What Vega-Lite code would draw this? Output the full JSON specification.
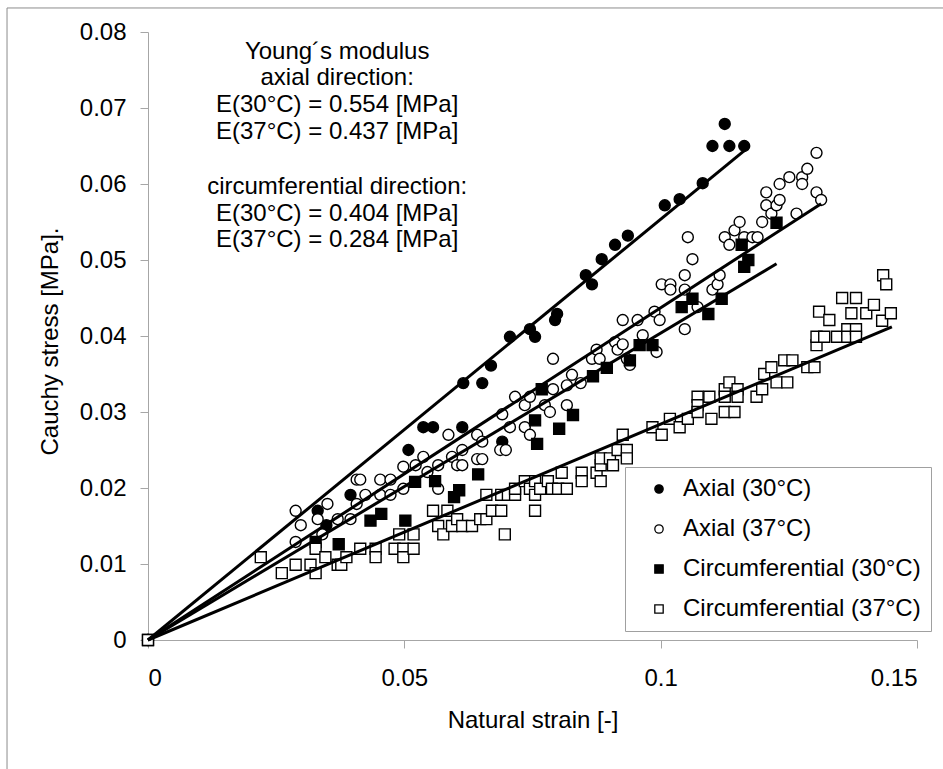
{
  "$schema": "https://vega.github.io/schema/vega-lite/v6.json",
  "autosize": {"type": "none"},
  "padding": {"left": 148, "top": 32, "right": 26, "bottom": 129},
  "width": 769,
  "height": 608,
  "background": "white",
  "config": {
    "view": {"stroke": null},
    "font": "Liberation Sans",
    "axis": {
      "grid": false,
      "domainColor": "#a6a6a6",
      "tickColor": "#a6a6a6",
      "tickSize": 8,
      "labelFont": "Liberation Sans",
      "labelFontSize": 24,
      "labelColor": "black",
      "titleFont": "Liberation Sans",
      "titleFontSize": 24,
      "titleFontWeight": "normal",
      "titleColor": "black"
    },
    "legend": {
      "strokeColor": "#a0a0a0", "fillColor": "white", "padding": 10,
      "symbolOffset": 12, "labelOffset": 12, "rowPadding": 16, "labelLimit": 400,
      "labelFont": "Liberation Sans", "labelFontSize": 24, "labelColor": "black",
      "symbolSize": 70, "symbolStrokeWidth": 1.3
    }
  },
  "datasets": {
    "points": [
      {"series": "Axial (30°C)", "strain": 0, "stress": 0},
      {"series": "Axial (30°C)", "strain": 0.0331, "stress": 0.0170},
      {"series": "Axial (30°C)", "strain": 0.0348, "stress": 0.0151},
      {"series": "Axial (30°C)", "strain": 0.0395, "stress": 0.0191},
      {"series": "Axial (30°C)", "strain": 0.0508, "stress": 0.0250},
      {"series": "Axial (30°C)", "strain": 0.0537, "stress": 0.0280},
      {"series": "Axial (30°C)", "strain": 0.0556, "stress": 0.0280},
      {"series": "Axial (30°C)", "strain": 0.0613, "stress": 0.0280},
      {"series": "Axial (30°C)", "strain": 0.0615, "stress": 0.0338},
      {"series": "Axial (30°C)", "strain": 0.0652, "stress": 0.0338},
      {"series": "Axial (30°C)", "strain": 0.0669, "stress": 0.0361},
      {"series": "Axial (30°C)", "strain": 0.0691, "stress": 0.0261},
      {"series": "Axial (30°C)", "strain": 0.0706, "stress": 0.0399},
      {"series": "Axial (30°C)", "strain": 0.0745, "stress": 0.0409},
      {"series": "Axial (30°C)", "strain": 0.0755, "stress": 0.0399},
      {"series": "Axial (30°C)", "strain": 0.0798, "stress": 0.0429},
      {"series": "Axial (30°C)", "strain": 0.0794, "stress": 0.0421},
      {"series": "Axial (30°C)", "strain": 0.0854, "stress": 0.0480},
      {"series": "Axial (30°C)", "strain": 0.0866, "stress": 0.0468},
      {"series": "Axial (30°C)", "strain": 0.0885, "stress": 0.0501},
      {"series": "Axial (30°C)", "strain": 0.0911, "stress": 0.0520},
      {"series": "Axial (30°C)", "strain": 0.0936, "stress": 0.0532},
      {"series": "Axial (30°C)", "strain": 0.1008, "stress": 0.0572},
      {"series": "Axial (30°C)", "strain": 0.1037, "stress": 0.0580},
      {"series": "Axial (30°C)", "strain": 0.1082, "stress": 0.0601},
      {"series": "Axial (30°C)", "strain": 0.1101, "stress": 0.0650},
      {"series": "Axial (30°C)", "strain": 0.1125, "stress": 0.0679},
      {"series": "Axial (30°C)", "strain": 0.1134, "stress": 0.0650},
      {"series": "Axial (30°C)", "strain": 0.1163, "stress": 0.0650},

      {"series": "Axial (37°C)", "strain": 0, "stress": 0},
      {"series": "Axial (37°C)", "strain": 0.0288, "stress": 0.0170},
      {"series": "Axial (37°C)", "strain": 0.0298, "stress": 0.0151},
      {"series": "Axial (37°C)", "strain": 0.0288, "stress": 0.0129},
      {"series": "Axial (37°C)", "strain": 0.0350, "stress": 0.0179},
      {"series": "Axial (37°C)", "strain": 0.0331, "stress": 0.0159},
      {"series": "Axial (37°C)", "strain": 0.0340, "stress": 0.0139},
      {"series": "Axial (37°C)", "strain": 0.0370, "stress": 0.0159},
      {"series": "Axial (37°C)", "strain": 0.0395, "stress": 0.0159},
      {"series": "Axial (37°C)", "strain": 0.0407, "stress": 0.0179},
      {"series": "Axial (37°C)", "strain": 0.0407, "stress": 0.0211},
      {"series": "Axial (37°C)", "strain": 0.0414, "stress": 0.0211},
      {"series": "Axial (37°C)", "strain": 0.0424, "stress": 0.0191},
      {"series": "Axial (37°C)", "strain": 0.0453, "stress": 0.0211},
      {"series": "Axial (37°C)", "strain": 0.0453, "stress": 0.0191},
      {"series": "Axial (37°C)", "strain": 0.0473, "stress": 0.0211},
      {"series": "Axial (37°C)", "strain": 0.0473, "stress": 0.0191},
      {"series": "Axial (37°C)", "strain": 0.0498, "stress": 0.0228},
      {"series": "Axial (37°C)", "strain": 0.0498, "stress": 0.0199},
      {"series": "Axial (37°C)", "strain": 0.0522, "stress": 0.0230},
      {"series": "Axial (37°C)", "strain": 0.0537, "stress": 0.0241},
      {"series": "Axial (37°C)", "strain": 0.0545, "stress": 0.0221},
      {"series": "Axial (37°C)", "strain": 0.0566, "stress": 0.0230},
      {"series": "Axial (37°C)", "strain": 0.0566, "stress": 0.0199},
      {"series": "Axial (37°C)", "strain": 0.0586, "stress": 0.0270},
      {"series": "Axial (37°C)", "strain": 0.0593, "stress": 0.0241},
      {"series": "Axial (37°C)", "strain": 0.0603, "stress": 0.0230},
      {"series": "Axial (37°C)", "strain": 0.0613, "stress": 0.0230},
      {"series": "Axial (37°C)", "strain": 0.0613, "stress": 0.0250},
      {"series": "Axial (37°C)", "strain": 0.0642, "stress": 0.0270},
      {"series": "Axial (37°C)", "strain": 0.0642, "stress": 0.0238},
      {"series": "Axial (37°C)", "strain": 0.0652, "stress": 0.0238},
      {"series": "Axial (37°C)", "strain": 0.0652, "stress": 0.0261},
      {"series": "Axial (37°C)", "strain": 0.0691, "stress": 0.0297},
      {"series": "Axial (37°C)", "strain": 0.0687, "stress": 0.0250},
      {"series": "Axial (37°C)", "strain": 0.0698, "stress": 0.0250},
      {"series": "Axial (37°C)", "strain": 0.0706, "stress": 0.0280},
      {"series": "Axial (37°C)", "strain": 0.0716, "stress": 0.0320},
      {"series": "Axial (37°C)", "strain": 0.0735, "stress": 0.0309},
      {"series": "Axial (37°C)", "strain": 0.0735, "stress": 0.0280},
      {"series": "Axial (37°C)", "strain": 0.0745, "stress": 0.0270},
      {"series": "Axial (37°C)", "strain": 0.0745, "stress": 0.0320},
      {"series": "Axial (37°C)", "strain": 0.0774, "stress": 0.0309},
      {"series": "Axial (37°C)", "strain": 0.0784, "stress": 0.0300},
      {"series": "Axial (37°C)", "strain": 0.0790, "stress": 0.0330},
      {"series": "Axial (37°C)", "strain": 0.0790, "stress": 0.0370},
      {"series": "Axial (37°C)", "strain": 0.0817, "stress": 0.0309},
      {"series": "Axial (37°C)", "strain": 0.0817, "stress": 0.0335},
      {"series": "Axial (37°C)", "strain": 0.0827, "stress": 0.0349},
      {"series": "Axial (37°C)", "strain": 0.0844, "stress": 0.0338},
      {"series": "Axial (37°C)", "strain": 0.0866, "stress": 0.0370},
      {"series": "Axial (37°C)", "strain": 0.0875, "stress": 0.0382},
      {"series": "Axial (37°C)", "strain": 0.0881, "stress": 0.0370},
      {"series": "Axial (37°C)", "strain": 0.0911, "stress": 0.0392},
      {"series": "Axial (37°C)", "strain": 0.0916, "stress": 0.0382},
      {"series": "Axial (37°C)", "strain": 0.0926, "stress": 0.0389},
      {"series": "Axial (37°C)", "strain": 0.0934, "stress": 0.0370},
      {"series": "Axial (37°C)", "strain": 0.0940, "stress": 0.0362},
      {"series": "Axial (37°C)", "strain": 0.0926, "stress": 0.0421},
      {"series": "Axial (37°C)", "strain": 0.0955, "stress": 0.0421},
      {"series": "Axial (37°C)", "strain": 0.0965, "stress": 0.0401},
      {"series": "Axial (37°C)", "strain": 0.0988, "stress": 0.0432},
      {"series": "Axial (37°C)", "strain": 0.0998, "stress": 0.0421},
      {"series": "Axial (37°C)", "strain": 0.0992, "stress": 0.0379},
      {"series": "Axial (37°C)", "strain": 0.1002, "stress": 0.0468},
      {"series": "Axial (37°C)", "strain": 0.1019, "stress": 0.0468},
      {"series": "Axial (37°C)", "strain": 0.1019, "stress": 0.0461},
      {"series": "Axial (37°C)", "strain": 0.1047, "stress": 0.0480},
      {"series": "Axial (37°C)", "strain": 0.1047, "stress": 0.0461},
      {"series": "Axial (37°C)", "strain": 0.1047, "stress": 0.0409},
      {"series": "Axial (37°C)", "strain": 0.1062, "stress": 0.0501},
      {"series": "Axial (37°C)", "strain": 0.1053, "stress": 0.0530},
      {"series": "Axial (37°C)", "strain": 0.1072, "stress": 0.0438},
      {"series": "Axial (37°C)", "strain": 0.1101, "stress": 0.0461},
      {"series": "Axial (37°C)", "strain": 0.1111, "stress": 0.0468},
      {"series": "Axial (37°C)", "strain": 0.1115, "stress": 0.0480},
      {"series": "Axial (37°C)", "strain": 0.1125, "stress": 0.0530},
      {"series": "Axial (37°C)", "strain": 0.1134, "stress": 0.0520},
      {"series": "Axial (37°C)", "strain": 0.1144, "stress": 0.0539},
      {"series": "Axial (37°C)", "strain": 0.1154, "stress": 0.0550},
      {"series": "Axial (37°C)", "strain": 0.1163, "stress": 0.0530},
      {"series": "Axial (37°C)", "strain": 0.1179, "stress": 0.0530},
      {"series": "Axial (37°C)", "strain": 0.1189, "stress": 0.0530},
      {"series": "Axial (37°C)", "strain": 0.1198, "stress": 0.0550},
      {"series": "Axial (37°C)", "strain": 0.1206, "stress": 0.0589},
      {"series": "Axial (37°C)", "strain": 0.1206, "stress": 0.0572},
      {"series": "Axial (37°C)", "strain": 0.1216, "stress": 0.0561},
      {"series": "Axial (37°C)", "strain": 0.1226, "stress": 0.0572},
      {"series": "Axial (37°C)", "strain": 0.1232, "stress": 0.0579},
      {"series": "Axial (37°C)", "strain": 0.1232, "stress": 0.0600},
      {"series": "Axial (37°C)", "strain": 0.1251, "stress": 0.0609},
      {"series": "Axial (37°C)", "strain": 0.1265, "stress": 0.0561},
      {"series": "Axial (37°C)", "strain": 0.1276, "stress": 0.0609},
      {"series": "Axial (37°C)", "strain": 0.1276, "stress": 0.0600},
      {"series": "Axial (37°C)", "strain": 0.1286, "stress": 0.0620},
      {"series": "Axial (37°C)", "strain": 0.1304, "stress": 0.0641},
      {"series": "Axial (37°C)", "strain": 0.1304, "stress": 0.0589},
      {"series": "Axial (37°C)", "strain": 0.1313, "stress": 0.0579},

      {"series": "Circumferential (30°C)", "strain": 0, "stress": 0},
      {"series": "Circumferential (30°C)", "strain": 0.0327, "stress": 0.0129},
      {"series": "Circumferential (30°C)", "strain": 0.0372, "stress": 0.0126},
      {"series": "Circumferential (30°C)", "strain": 0.0434, "stress": 0.0157},
      {"series": "Circumferential (30°C)", "strain": 0.0455, "stress": 0.0166},
      {"series": "Circumferential (30°C)", "strain": 0.0502, "stress": 0.0157},
      {"series": "Circumferential (30°C)", "strain": 0.0521, "stress": 0.0208},
      {"series": "Circumferential (30°C)", "strain": 0.0560, "stress": 0.0209},
      {"series": "Circumferential (30°C)", "strain": 0.0597, "stress": 0.0188},
      {"series": "Circumferential (30°C)", "strain": 0.0607, "stress": 0.0197},
      {"series": "Circumferential (30°C)", "strain": 0.0644, "stress": 0.0218},
      {"series": "Circumferential (30°C)", "strain": 0.0755, "stress": 0.0289},
      {"series": "Circumferential (30°C)", "strain": 0.0759, "stress": 0.0258},
      {"series": "Circumferential (30°C)", "strain": 0.0768, "stress": 0.0330},
      {"series": "Circumferential (30°C)", "strain": 0.0802, "stress": 0.0278},
      {"series": "Circumferential (30°C)", "strain": 0.0829, "stress": 0.0296},
      {"series": "Circumferential (30°C)", "strain": 0.0868, "stress": 0.0347},
      {"series": "Circumferential (30°C)", "strain": 0.0895, "stress": 0.0358},
      {"series": "Circumferential (30°C)", "strain": 0.0940, "stress": 0.0368},
      {"series": "Circumferential (30°C)", "strain": 0.0959, "stress": 0.0388},
      {"series": "Circumferential (30°C)", "strain": 0.0984, "stress": 0.0388},
      {"series": "Circumferential (30°C)", "strain": 0.1041, "stress": 0.0438},
      {"series": "Circumferential (30°C)", "strain": 0.1062, "stress": 0.0449},
      {"series": "Circumferential (30°C)", "strain": 0.1093, "stress": 0.0429},
      {"series": "Circumferential (30°C)", "strain": 0.1119, "stress": 0.0449},
      {"series": "Circumferential (30°C)", "strain": 0.1158, "stress": 0.0520},
      {"series": "Circumferential (30°C)", "strain": 0.1163, "stress": 0.0491},
      {"series": "Circumferential (30°C)", "strain": 0.1171, "stress": 0.0500},
      {"series": "Circumferential (30°C)", "strain": 0.1226, "stress": 0.0549},

      {"series": "Circumferential (37°C)", "strain": 0, "stress": 0},
      {"series": "Circumferential (37°C)", "strain": 0.0220, "stress": 0.0109},
      {"series": "Circumferential (37°C)", "strain": 0.0261, "stress": 0.0088},
      {"series": "Circumferential (37°C)", "strain": 0.0288, "stress": 0.0099},
      {"series": "Circumferential (37°C)", "strain": 0.0317, "stress": 0.0099},
      {"series": "Circumferential (37°C)", "strain": 0.0327, "stress": 0.0088},
      {"series": "Circumferential (37°C)", "strain": 0.0327, "stress": 0.0120},
      {"series": "Circumferential (37°C)", "strain": 0.0346, "stress": 0.0109},
      {"series": "Circumferential (37°C)", "strain": 0.0370, "stress": 0.0099},
      {"series": "Circumferential (37°C)", "strain": 0.0377, "stress": 0.0099},
      {"series": "Circumferential (37°C)", "strain": 0.0387, "stress": 0.0109},
      {"series": "Circumferential (37°C)", "strain": 0.0414, "stress": 0.0120},
      {"series": "Circumferential (37°C)", "strain": 0.0444, "stress": 0.0120},
      {"series": "Circumferential (37°C)", "strain": 0.0444, "stress": 0.0109},
      {"series": "Circumferential (37°C)", "strain": 0.0481, "stress": 0.0120},
      {"series": "Circumferential (37°C)", "strain": 0.0498, "stress": 0.0120},
      {"series": "Circumferential (37°C)", "strain": 0.0498, "stress": 0.0109},
      {"series": "Circumferential (37°C)", "strain": 0.0518, "stress": 0.0120},
      {"series": "Circumferential (37°C)", "strain": 0.0490, "stress": 0.0139},
      {"series": "Circumferential (37°C)", "strain": 0.0518, "stress": 0.0139},
      {"series": "Circumferential (37°C)", "strain": 0.0556, "stress": 0.0170},
      {"series": "Circumferential (37°C)", "strain": 0.0584, "stress": 0.0170},
      {"series": "Circumferential (37°C)", "strain": 0.0566, "stress": 0.0150},
      {"series": "Circumferential (37°C)", "strain": 0.0576, "stress": 0.0139},
      {"series": "Circumferential (37°C)", "strain": 0.0593, "stress": 0.0150},
      {"series": "Circumferential (37°C)", "strain": 0.0603, "stress": 0.0159},
      {"series": "Circumferential (37°C)", "strain": 0.0613, "stress": 0.0150},
      {"series": "Circumferential (37°C)", "strain": 0.0632, "stress": 0.0150},
      {"series": "Circumferential (37°C)", "strain": 0.0648, "stress": 0.0159},
      {"series": "Circumferential (37°C)", "strain": 0.0660, "stress": 0.0159},
      {"series": "Circumferential (37°C)", "strain": 0.0671, "stress": 0.0170},
      {"series": "Circumferential (37°C)", "strain": 0.0689, "stress": 0.0170},
      {"series": "Circumferential (37°C)", "strain": 0.0696, "stress": 0.0139},
      {"series": "Circumferential (37°C)", "strain": 0.0660, "stress": 0.0191},
      {"series": "Circumferential (37°C)", "strain": 0.0689, "stress": 0.0191},
      {"series": "Circumferential (37°C)", "strain": 0.0702, "stress": 0.0191},
      {"series": "Circumferential (37°C)", "strain": 0.0716, "stress": 0.0191},
      {"series": "Circumferential (37°C)", "strain": 0.0716, "stress": 0.0199},
      {"series": "Circumferential (37°C)", "strain": 0.0735, "stress": 0.0209},
      {"series": "Circumferential (37°C)", "strain": 0.0745, "stress": 0.0199},
      {"series": "Circumferential (37°C)", "strain": 0.0755, "stress": 0.0191},
      {"series": "Circumferential (37°C)", "strain": 0.0755, "stress": 0.0170},
      {"series": "Circumferential (37°C)", "strain": 0.0755, "stress": 0.0209},
      {"series": "Circumferential (37°C)", "strain": 0.0765, "stress": 0.0199},
      {"series": "Circumferential (37°C)", "strain": 0.0780, "stress": 0.0209},
      {"series": "Circumferential (37°C)", "strain": 0.0788, "stress": 0.0199},
      {"series": "Circumferential (37°C)", "strain": 0.0800, "stress": 0.0199},
      {"series": "Circumferential (37°C)", "strain": 0.0817, "stress": 0.0199},
      {"series": "Circumferential (37°C)", "strain": 0.0807, "stress": 0.0220},
      {"series": "Circumferential (37°C)", "strain": 0.0846, "stress": 0.0220},
      {"series": "Circumferential (37°C)", "strain": 0.0846, "stress": 0.0209},
      {"series": "Circumferential (37°C)", "strain": 0.0875, "stress": 0.0220},
      {"series": "Circumferential (37°C)", "strain": 0.0883, "stress": 0.0209},
      {"series": "Circumferential (37°C)", "strain": 0.0883, "stress": 0.0230},
      {"series": "Circumferential (37°C)", "strain": 0.0883, "stress": 0.0239},
      {"series": "Circumferential (37°C)", "strain": 0.0901, "stress": 0.0239},
      {"series": "Circumferential (37°C)", "strain": 0.0907, "stress": 0.0230},
      {"series": "Circumferential (37°C)", "strain": 0.0916, "stress": 0.0250},
      {"series": "Circumferential (37°C)", "strain": 0.0934, "stress": 0.0250},
      {"series": "Circumferential (37°C)", "strain": 0.0934, "stress": 0.0239},
      {"series": "Circumferential (37°C)", "strain": 0.0926, "stress": 0.0270},
      {"series": "Circumferential (37°C)", "strain": 0.0984, "stress": 0.0280},
      {"series": "Circumferential (37°C)", "strain": 0.1002, "stress": 0.0270},
      {"series": "Circumferential (37°C)", "strain": 0.1018, "stress": 0.0291},
      {"series": "Circumferential (37°C)", "strain": 0.1037, "stress": 0.0280},
      {"series": "Circumferential (37°C)", "strain": 0.1053, "stress": 0.0291},
      {"series": "Circumferential (37°C)", "strain": 0.1072, "stress": 0.0320},
      {"series": "Circumferential (37°C)", "strain": 0.1072, "stress": 0.0309},
      {"series": "Circumferential (37°C)", "strain": 0.1072, "stress": 0.0300},
      {"series": "Circumferential (37°C)", "strain": 0.1095, "stress": 0.0320},
      {"series": "Circumferential (37°C)", "strain": 0.1099, "stress": 0.0291},
      {"series": "Circumferential (37°C)", "strain": 0.1125, "stress": 0.0330},
      {"series": "Circumferential (37°C)", "strain": 0.1125, "stress": 0.0320},
      {"series": "Circumferential (37°C)", "strain": 0.1134, "stress": 0.0339},
      {"series": "Circumferential (37°C)", "strain": 0.1150, "stress": 0.0330},
      {"series": "Circumferential (37°C)", "strain": 0.1150, "stress": 0.0320},
      {"series": "Circumferential (37°C)", "strain": 0.1125, "stress": 0.0300},
      {"series": "Circumferential (37°C)", "strain": 0.1144, "stress": 0.0300},
      {"series": "Circumferential (37°C)", "strain": 0.1187, "stress": 0.0320},
      {"series": "Circumferential (37°C)", "strain": 0.1198, "stress": 0.0330},
      {"series": "Circumferential (37°C)", "strain": 0.1202, "stress": 0.0350},
      {"series": "Circumferential (37°C)", "strain": 0.1216, "stress": 0.0359},
      {"series": "Circumferential (37°C)", "strain": 0.1226, "stress": 0.0339},
      {"series": "Circumferential (37°C)", "strain": 0.1241, "stress": 0.0368},
      {"series": "Circumferential (37°C)", "strain": 0.1257, "stress": 0.0368},
      {"series": "Circumferential (37°C)", "strain": 0.1247, "stress": 0.0339},
      {"series": "Circumferential (37°C)", "strain": 0.1286, "stress": 0.0359},
      {"series": "Circumferential (37°C)", "strain": 0.1300, "stress": 0.0359},
      {"series": "Circumferential (37°C)", "strain": 0.1304, "stress": 0.0388},
      {"series": "Circumferential (37°C)", "strain": 0.1304, "stress": 0.0399},
      {"series": "Circumferential (37°C)", "strain": 0.1319, "stress": 0.0399},
      {"series": "Circumferential (37°C)", "strain": 0.1309, "stress": 0.0432},
      {"series": "Circumferential (37°C)", "strain": 0.1329, "stress": 0.0421},
      {"series": "Circumferential (37°C)", "strain": 0.1344, "stress": 0.0399},
      {"series": "Circumferential (37°C)", "strain": 0.1364, "stress": 0.0409},
      {"series": "Circumferential (37°C)", "strain": 0.1364, "stress": 0.0399},
      {"series": "Circumferential (37°C)", "strain": 0.1381, "stress": 0.0409},
      {"series": "Circumferential (37°C)", "strain": 0.1381, "stress": 0.0399},
      {"series": "Circumferential (37°C)", "strain": 0.1372, "stress": 0.0430},
      {"series": "Circumferential (37°C)", "strain": 0.1354, "stress": 0.0450},
      {"series": "Circumferential (37°C)", "strain": 0.1381, "stress": 0.0450},
      {"series": "Circumferential (37°C)", "strain": 0.1401, "stress": 0.0430},
      {"series": "Circumferential (37°C)", "strain": 0.1416, "stress": 0.0441},
      {"series": "Circumferential (37°C)", "strain": 0.1434, "stress": 0.0480},
      {"series": "Circumferential (37°C)", "strain": 0.1440, "stress": 0.0468},
      {"series": "Circumferential (37°C)", "strain": 0.1432, "stress": 0.0420},
      {"series": "Circumferential (37°C)", "strain": 0.1449, "stress": 0.0430}
    ],
    "fits": [
      {"series": "Axial (30°C)", "strain": 0, "stress": 0, "strain_end": 0.1165, "stress_end": 0.0645},
      {"series": "Axial (37°C)", "strain": 0, "stress": 0, "strain_end": 0.1313, "stress_end": 0.0574},
      {"series": "Circumferential (30°C)", "strain": 0, "stress": 0, "strain_end": 0.1226, "stress_end": 0.0495},
      {"series": "Circumferential (37°C)", "strain": 0, "stress": 0, "strain_end": 0.1451, "stress_end": 0.0412}
    ],
    "note_axial": [
      {"text": "Young´s modulus\naxial direction:\nE(30°C) = 0.554 [MPa]\nE(37°C) = 0.437 [MPa]"}
    ],
    "note_circ": [
      {"text": "circumferential direction:\nE(30°C) = 0.404 [MPa]\nE(37°C) = 0.284 [MPa]"}
    ],
    "frame": [{"frame": "border"}]
  },
  "layer": [
    {
      "data": {"name": "frame"},
      "mark": {"type": "rect", "fill": null, "stroke": "#8c8c8c", "strokeWidth": 1},
      "encoding": {
        "x": {"datum": -0.0275, "type": "quantitative", "scale": {"domain": [0, 0.15], "nice": false, "zero": false}},
        "x2": {"datum": 0.25},
        "y": {"datum": 0.08316, "type": "quantitative", "scale": {"domain": [0, 0.08], "nice": false, "zero": false}},
        "y2": {"datum": -0.05}
      }
    },
    {
      "data": {"name": "points"},
      "mark": {"type": "point", "strokeWidth": 1.4, "opacity": 1, "size": 120},
      "encoding": {
        "x": {
          "field": "strain", "type": "quantitative",
          "scale": {"domain": [0, 0.15], "nice": false, "zero": false},
          "axis": {
            "values": [0, 0.05, 0.1, 0.15],
            "format": "~g",
            "labelPadding": 18,
            "title": "Natural strain [-]",
            "titleBaseline": "alphabetic",
            "titleY": 87
          }
        },
        "y": {
          "field": "stress", "type": "quantitative",
          "scale": {"domain": [0, 0.08], "nice": false, "zero": false},
          "axis": {
            "values": [0, 0.01, 0.02, 0.03, 0.04, 0.05, 0.06, 0.07, 0.08],
            "labelExpr": "datum.value == 0 ? '0' : format(datum.value, '.2f')",
            "labelPadding": 14,
            "title": "Cauchy stress [MPa].",
            "titleAngle": 270,
            "titleAlign": "center",
            "titleBaseline": "alphabetic",
            "titleX": -91,
            "titleY": 309
          }
        },
        "shape": {
          "field": "series", "type": "nominal",
          "scale": {
            "domain": ["Axial (30°C)", "Axial (37°C)", "Circumferential (30°C)", "Circumferential (37°C)"],
            "range": ["circle", "circle", "square", "square"]
          },
          "legend": {"title": null, "orient": "none", "legendX": 477, "legendY": 435}
        },
        "fill": {
          "field": "series", "type": "nominal",
          "scale": {
            "domain": ["Axial (30°C)", "Axial (37°C)", "Circumferential (30°C)", "Circumferential (37°C)"],
            "range": ["black", "white", "black", "white"]
          },
          "legend": {"title": null, "orient": "none", "legendX": 477, "legendY": 435}
        },
        "stroke": {
          "field": "series", "type": "nominal",
          "scale": {
            "domain": ["Axial (30°C)", "Axial (37°C)", "Circumferential (30°C)", "Circumferential (37°C)"],
            "range": ["black", "black", "black", "black"]
          },
          "legend": {"title": null, "orient": "none", "legendX": 477, "legendY": 435}
        }
      }
    },
    {
      "data": {"name": "fits"},
      "mark": {"type": "rule", "color": "black", "strokeWidth": 3},
      "encoding": {
        "x": {"field": "strain", "type": "quantitative"},
        "y": {"field": "stress", "type": "quantitative"},
        "x2": {"field": "strain_end"},
        "y2": {"field": "stress_end"}
      }
    },
    {
      "data": {"name": "note_axial"},
      "mark": {"type": "text", "lineBreak": "\n", "lineHeight": 26.7, "fontSize": 24, "font": "Liberation Sans", "align": "center", "baseline": "middle", "color": "black"},
      "encoding": {
        "x": {"datum": 0.0369, "type": "quantitative"},
        "y": {"datum": 0.0774, "type": "quantitative"},
        "text": {"field": "text"}
      }
    },
    {
      "data": {"name": "note_circ"},
      "mark": {"type": "text", "lineBreak": "\n", "lineHeight": 26.7, "fontSize": 24, "font": "Liberation Sans", "align": "center", "baseline": "middle", "color": "black"},
      "encoding": {
        "x": {"datum": 0.0369, "type": "quantitative"},
        "y": {"datum": 0.0596, "type": "quantitative"},
        "text": {"field": "text"}
      }
    }
  ]
}
